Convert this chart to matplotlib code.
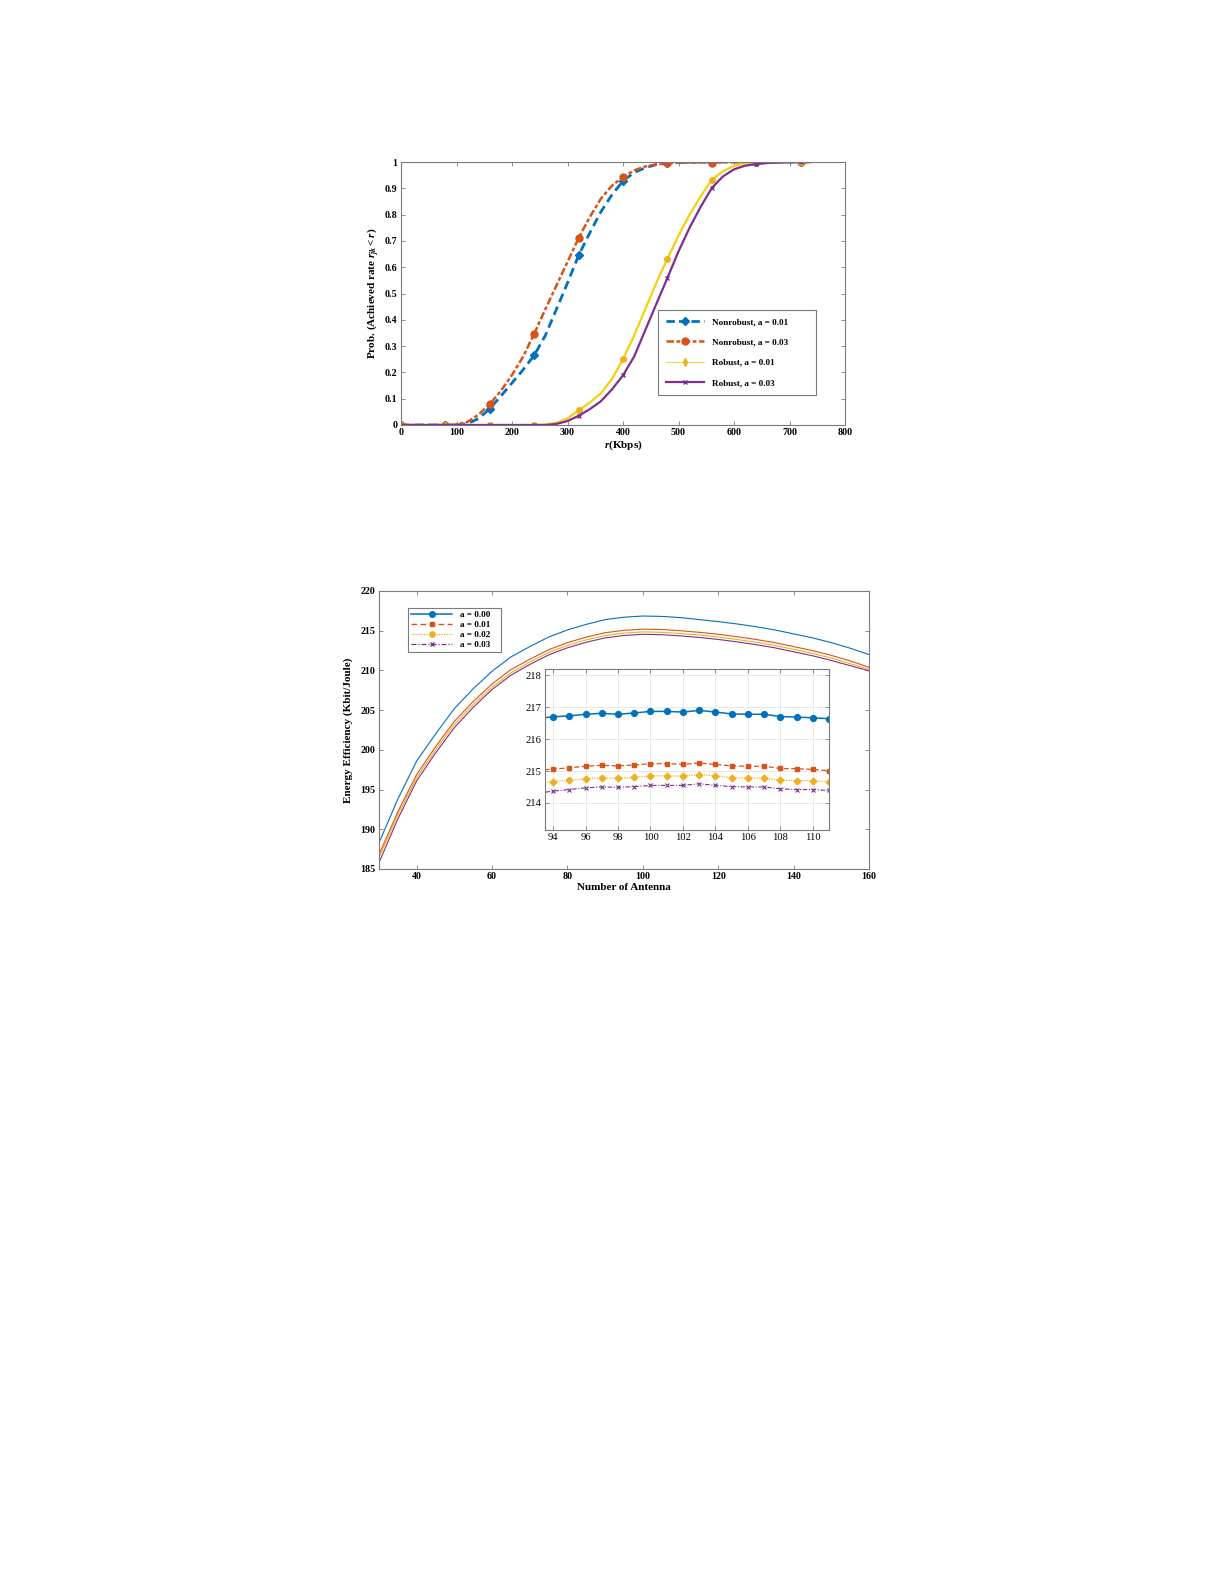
import matplotlib
matplotlib.use("Agg")
import matplotlib.pyplot as plt
from matplotlib.lines import Line2D

plt.rcParams['font.family'] = ['Liberation Serif', 'DejaVu Serif']
plt.rcParams['mathtext.fontset'] = 'custom'
plt.rcParams['mathtext.it'] = 'Liberation Serif:italic:bold'
plt.rcParams['mathtext.rm'] = 'Liberation Serif:bold'
plt.rcParams['mathtext.bf'] = 'Liberation Serif:bold'

# ---------------- Top chart data (CDF of achieved rate) ----------------
rate_kbps = [0, 20, 40, 60, 80, 100, 120, 140, 160, 180, 200, 220, 240, 260, 280,
             300, 320, 340, 360, 380, 400, 420, 440, 460, 480, 500, 520, 540, 560,
             580, 600, 620, 640, 660, 680, 700, 720, 740]
cdf_nonrobust_001 = [0, 0, 0, 0, 0, 0, 0.005, 0.025, 0.062, 0.11, 0.16, 0.21, 0.265,
                     0.34, 0.44, 0.54, 0.645, 0.73, 0.81, 0.875, 0.928, 0.96, 0.978,
                     0.99, 0.995, 0.998, 0.999, 1, 1, 1, 1, 1, 1, 1, 1, 1, 1, 1]
cdf_nonrobust_003 = [0, 0, 0, 0, 0, 0.002, 0.012, 0.04, 0.079, 0.13, 0.19, 0.26, 0.347,
                     0.44, 0.53, 0.62, 0.711, 0.79, 0.86, 0.91, 0.943, 0.968, 0.983,
                     0.991, 0.995, 0.997, 0.998, 0.998, 0.998, 0.999, 1, 1, 1, 1, 1, 1, 1, 1]
cdf_robust_001 = [0, 0, 0, 0, 0, 0, 0, 0, 0, 0, 0, 0, 0, 0.002, 0.008, 0.025, 0.056,
                  0.085, 0.12, 0.175, 0.25, 0.34, 0.44, 0.54, 0.632, 0.72, 0.80, 0.87,
                  0.932, 0.965, 0.985, 0.995, 0.999, 1, 1, 1, 1, 1]
cdf_robust_003 = [0, 0, 0, 0, 0, 0, 0, 0, 0, 0, 0, 0, 0, 0, 0.004, 0.015, 0.035, 0.06,
                  0.09, 0.135, 0.189, 0.26, 0.36, 0.46, 0.559, 0.66, 0.75, 0.83, 0.901,
                  0.945, 0.972, 0.986, 0.992, 0.996, 0.998, 0.999, 1, 1]
top_labels = ["Nonrobust, a = 0.01", "Nonrobust, a = 0.03",
              "Robust, a = 0.01", "Robust, a = 0.03"]
top_xticks = [0, 100, 200, 300, 400, 500, 600, 700, 800]
top_yticks = [0, 0.1, 0.2, 0.3, 0.4, 0.5, 0.6, 0.7, 0.8, 0.9, 1]
top_yticklabels = ["0", "0.1", "0.2", "0.3", "0.4", "0.5", "0.6", "0.7", "0.8", "0.9", "1"]

# ---------------- Bottom chart data (energy efficiency) ----------------
antennas = [30, 35, 40, 45, 50, 55, 60, 65, 70, 75, 80, 85, 90, 95, 100, 105, 110,
            115, 120, 125, 130, 135, 140, 145, 150, 155, 160]
ee_a000 = [188.3, 193.8, 198.6, 202.0, 205.2, 207.7, 209.9, 211.7, 213.0, 214.2, 215.1,
           215.8, 216.4, 216.7, 216.85, 216.8, 216.65, 216.4, 216.15, 215.85, 215.5,
           215.1, 214.6, 214.1, 213.5, 212.8, 212.0]
ee_a001 = [186.8, 192.2, 196.9, 200.4, 203.6, 206.1, 208.3, 210.1, 211.4, 212.6, 213.5,
           214.2, 214.75, 215.05, 215.2, 215.15, 215.0, 214.8, 214.55, 214.25, 213.9,
           213.5, 213.0, 212.5, 211.9, 211.2, 210.4]
ee_a002 = [186.4, 191.8, 196.5, 200.0, 203.2, 205.7, 207.9, 209.7, 211.05, 212.25, 213.15,
           213.85, 214.4, 214.7, 214.85, 214.8, 214.65, 214.45, 214.2, 213.9, 213.55,
           213.15, 212.65, 212.15, 211.55, 210.85, 210.15]
ee_a003 = [185.8, 191.3, 196.1, 199.6, 202.8, 205.35, 207.6, 209.4, 210.75, 211.95, 212.85,
           213.55, 214.1, 214.4, 214.55, 214.5, 214.35, 214.15, 213.9, 213.6, 213.25,
           212.85, 212.35, 211.85, 211.25, 210.6, 209.95]
bottom_labels = ["a = 0.00", "a = 0.01", "a = 0.02", "a = 0.03"]
bottom_xticks = [40, 60, 80, 100, 120, 140, 160]
bottom_yticks = [185, 190, 195, 200, 205, 210, 215, 220]

# zoomed inset data
inset_antennas = [93, 94, 95, 96, 97, 98, 99, 100, 101, 102, 103, 104, 105, 106, 107,
                  108, 109, 110, 111]
inset_a000 = [216.65, 216.70, 216.73, 216.78, 216.81, 216.78, 216.82, 216.87, 216.87,
              216.85, 216.90, 216.85, 216.79, 216.78, 216.78, 216.71, 216.69, 216.67, 216.64]
inset_a001 = [215.02, 215.06, 215.10, 215.15, 215.18, 215.16, 215.19, 215.23, 215.23,
              215.21, 215.25, 215.21, 215.16, 215.15, 215.15, 215.08, 215.07, 215.05, 215.01]
inset_a002 = [214.62, 214.67, 214.71, 214.75, 214.79, 214.77, 214.80, 214.85, 214.85,
              214.84, 214.89, 214.85, 214.79, 214.78, 214.78, 214.71, 214.70, 214.69, 214.66]
inset_a003 = [214.30, 214.37, 214.42, 214.47, 214.50, 214.49, 214.51, 214.55, 214.55,
              214.55, 214.60, 214.55, 214.51, 214.50, 214.50, 214.44, 214.42, 214.42, 214.39]
inset_xticks = [94, 96, 98, 100, 102, 104, 106, 108, 110]
inset_yticks = [214, 215, 216, 217, 218]

C_BLUE = '#0072BD'
C_ORANGE = '#D95319'
C_YELLOW = '#EDB120'
C_YELLOW_TOP = '#F5D010'
C_PURPLE = '#7E2F8E'
SPINE = '#7a7a7a'

W, H = 1225, 1585
fig = plt.figure(figsize=(W / 100, H / 100), dpi=100)


def rect(l, t, r, b):
    return [l / W, 1 - b / H, (r - l) / W, (b - t) / H]


def style_axes(ax, fs, bold=True):
    for s in ax.spines.values():
        s.set_color(SPINE)
        s.set_linewidth(0.8)
    ax.tick_params(direction='in', top=True, right=True, length=3, width=0.6,
                   color=SPINE, labelsize=fs, pad=2.5)
    for lab in ax.get_xticklabels() + ax.get_yticklabels():
        lab.set_fontweight('bold' if bold else 'normal')


# ================= Top chart =================
ax1 = fig.add_axes(rect(401, 162, 845, 425))
marker_idx = [0, 4, 8, 12, 16, 20, 24, 28, 32, 36]
ax1.plot(rate_kbps, cdf_nonrobust_001, color=C_BLUE, lw=2.0, ls=(0, (3.2, 1.8)),
         marker='D', ms=4.5, markevery=marker_idx)
ax1.plot(rate_kbps, cdf_nonrobust_003, color=C_ORANGE, lw=1.8, ls=(0, (3, 1, 1.5, 1)),
         marker='o', ms=5, markevery=marker_idx)
ax1.plot(rate_kbps, cdf_robust_001, color=C_YELLOW_TOP, lw=1.6, ls='-',
         marker='o', ms=4, markerfacecolor=C_YELLOW, markeredgecolor=C_YELLOW,
         markevery=marker_idx)
ax1.plot(rate_kbps, cdf_robust_003, color=C_PURPLE, lw=1.6, ls='-',
         marker='x', ms=3.5, markevery=marker_idx)
ax1.set_xlim(0, 800)
ax1.set_ylim(0, 1)
ax1.set_xticks(top_xticks)
ax1.set_yticks(top_yticks)
ax1.set_yticklabels(top_yticklabels)
style_axes(ax1, 7.2)
ax1.set_xlabel('$r$(Kbps)', fontsize=8, fontweight='bold', labelpad=1)
ax1.set_ylabel('Prob. (Achieved rate $r_{jk} < r$)', fontsize=8, fontweight='bold',
               labelpad=3)
top_handles = [
    Line2D([], [], color=C_BLUE, lw=2.0, ls=(0, (3, 1.5)), marker='D', ms=4.5),
    Line2D([], [], color=C_ORANGE, lw=1.8, ls=(0, (3, 1, 1.5, 1)), marker='o', ms=5),
    Line2D([], [], color=C_YELLOW_TOP, lw=0.6, ls='-', marker='d', ms=4,
           markerfacecolor=C_YELLOW, markeredgecolor=C_YELLOW),
    Line2D([], [], color=C_PURPLE, lw=1.6, ls='-', marker='x', ms=3.5),
]
leg1 = ax1.legend(top_handles, top_labels, loc='lower left',
                  bbox_to_anchor=((658 - 401) / 444, (425 - 395) / 263,
                                  (816 - 658) / 444, (395 - 317) / 263),
                  mode='expand', prop={'family': 'Liberation Serif', 'weight': 'bold',
                                       'size': 6.6},
                  fancybox=False, framealpha=1, edgecolor=SPINE, labelspacing=1.3,
                  handlelength=4.2, borderpad=0.85, handletextpad=0.8, borderaxespad=0)
leg1.get_frame().set_linewidth(0.8)

# ================= Bottom chart =================
ax2 = fig.add_axes(rect(379, 591, 869, 869))
ax2.plot(antennas, ee_a000, color=C_BLUE, lw=0.8)
ax2.plot(antennas, ee_a001, color=C_ORANGE, lw=0.8)
ax2.plot(antennas, ee_a002, color=C_YELLOW, lw=0.8)
ax2.plot(antennas, ee_a003, color=C_PURPLE, lw=0.8)
ax2.set_xlim(30, 160)
ax2.set_ylim(185, 220)
ax2.set_xticks(bottom_xticks)
ax2.set_yticks(bottom_yticks)
style_axes(ax2, 7.2)
ax2.set_xlabel('Number of Antenna', fontsize=8, fontweight='bold', labelpad=1)
ax2.set_ylabel('Energy Efficiency (Kbit/Joule)', fontsize=8, fontweight='bold',
               labelpad=5)

# inset
ax3 = fig.add_axes(rect(545, 669, 829, 830))
ax3.plot(inset_antennas, inset_a000, color=C_BLUE, lw=1.1, ls='-',
         marker='o', ms=4.2)
ax3.plot(inset_antennas, inset_a001, color=C_ORANGE, lw=0.9, ls=(0, (4, 2)),
         marker='s', ms=3.4)
ax3.plot(inset_antennas, inset_a002, color=C_YELLOW, lw=0.9, ls=(0, (1, 1)),
         marker='D', ms=3.4)
ax3.plot(inset_antennas, inset_a003, color=C_PURPLE, lw=0.8, ls=(0, (4, 1.5, 1, 1.5)),
         marker='x', ms=2.8, markeredgewidth=0.8)
ax3.set_xlim(93.5, 111)
ax3.set_ylim(213.15, 218.2)
ax3.set_xticks(inset_xticks)
ax3.set_yticks(inset_yticks)
ax3.grid(True, color='#e4e4e4', lw=0.6)
ax3.set_axisbelow(True)
style_axes(ax3, 7.6, bold=False)

bottom_handles = [
    Line2D([], [], color=C_BLUE, lw=1.1, ls='-', marker='o', ms=4),
    Line2D([], [], color=C_ORANGE, lw=1.0, ls=(0, (4, 2.5)), marker='s', ms=3.5),
    Line2D([], [], color=C_YELLOW, lw=0.9, ls=(0, (1, 1)), marker='o', ms=3.8),
    Line2D([], [], color=C_PURPLE, lw=0.9, ls=(0, (4, 1.5, 1, 1.5)), marker='x', ms=3),
]
leg2 = ax2.legend(bottom_handles, bottom_labels, loc='lower left',
                  bbox_to_anchor=((408 - 379) / 490, (869 - 652) / 278,
                                  (501 - 408) / 490, (652 - 608) / 278),
                  mode='expand', prop={'family': 'Liberation Serif', 'weight': 'bold',
                                       'size': 6.6},
                  fancybox=False, framealpha=1, edgecolor=SPINE, labelspacing=0.15,
                  handlelength=4.5, borderpad=0.35, handletextpad=0.8, borderaxespad=0)
leg2.get_frame().set_linewidth(0.8)

fig.savefig('out.png', dpi=100, facecolor='white')
